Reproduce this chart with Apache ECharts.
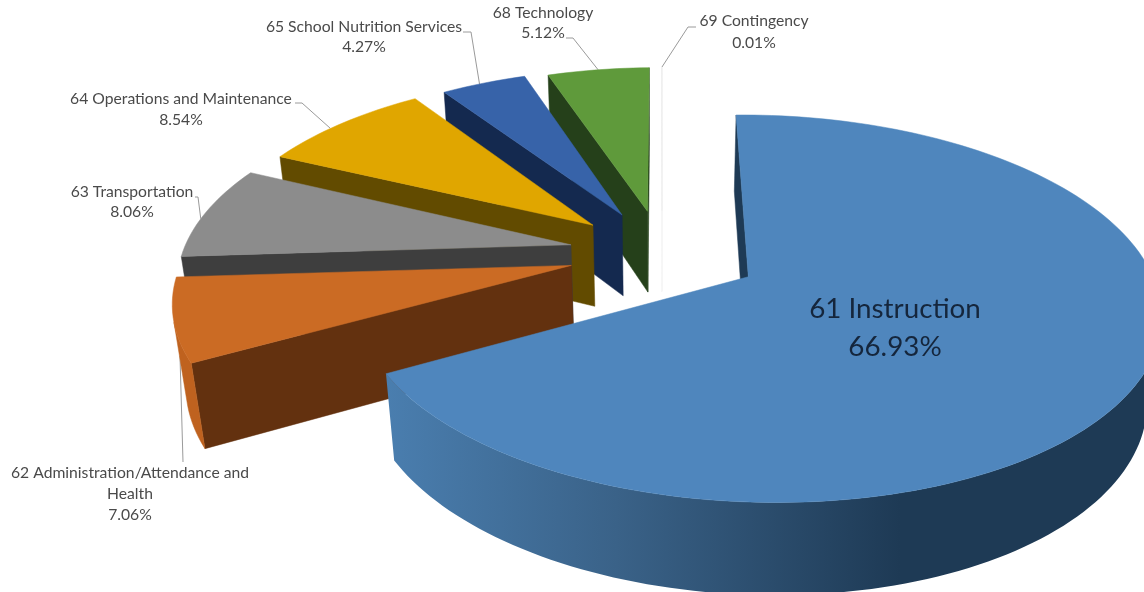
<!DOCTYPE html>
<html>
<head>
<meta charset="utf-8">
<title>General fund expenditures by function</title>
<style>
  html, body { margin: 0; padding: 0; background: #fff; }
  #chart { width: 1144px; height: 592px; }
</style>
<script src="https://cdn.jsdelivr.net/npm/echarts@6/dist/echarts.min.js"></script>
</head>
<body>
<div id="chart"></div>
<script>
// Budget share of each function, clockwise from twelve o'clock.
const functionNames = [
  '61 Instruction',
  '62 Administration/Attendance and\nHealth',
  '63 Transportation',
  '64 Operations and Maintenance',
  '65 School Nutrition Services',
  '68 Technology',
  '69 Contingency'
];
const shares = [66.93, 7.06, 8.06, 8.54, 4.27, 5.12, 0.01];

const topColors = ['#4F86BD', '#CB6B24', '#8C8C8C', '#E0A600', '#3763A9', '#5F9A3B', '#EDEDED'];
const faceColors = ['#1E3A55', '#63310F', '#3E3E3E', '#624B00', '#14294F', '#25401A', '#F2F2F2'];
const wallColors = ['#1E3A55', '#BF621F', '#5A5A5A', '#8A6A00', '#203E70', '#3A5F24', '#F2F2F2'];

// Explosion distance and radius of each slice, in pie radii.
const explodeBy = [0.255, 0.245, 0.245, 0.245, 0.245, 0.245, 0.245];
const sliceReach = [1.005, 1.04, 1.045, 1.03, 1.015, 1, 1];

// Label placement: text centre, line height, font size, then the leader line
// (anchor as arc fraction and depth, followed by its elbow points).
const labelLayout = [
  { x: 895, y: 328, lh: 38, fs: 27.8, color: '#15263C' },
  { x: 130, y: 494, lh: 21, fs: 15.7, color: '#4A4A4A', f: 0.62, z: -0.55, bends: [[183, 462]] },
  { x: 132, y: 202, lh: 20, fs: 15.7, color: '#4A4A4A', f: 0.42, z: 0, bends: [[198, 197], [195, 197]] },
  { x: 181, y: 109, lh: 21, fs: 15.7, color: '#4A4A4A', f: 0.42, z: 0, bends: [[302, 103], [295, 103]] },
  { x: 364, y: 37, lh: 20, fs: 15.7, color: '#4A4A4A', f: 0.45, z: 0, bends: [[471, 32], [463, 32]] },
  { x: 543, y: 23, lh: 20, fs: 15.7, color: '#4A4A4A', f: 0.5, z: 0, bends: [[573, 38], [566, 38]] },
  { x: 754, y: 32, lh: 22, fs: 15.7, color: '#4A4A4A', f: 0.5, z: 0, bends: [[688, 27], [696, 27]] }
];

// Perspective camera for the tilted, exploded pie (unit radius, unit height).
const camera = { cx: 662, cy: 253, sx: 383, sy: 179, sz: 85, kx: 0.02, ky: 0.16, kz: 0.028 };

function project(X, Y, Z) {
  const w = 1 + camera.ky * Y - camera.kx * X - camera.kz * Z;
  return [camera.cx + camera.sx * X / w, camera.cy - (camera.sy * Y + camera.sz * Z) / w];
}

function shoelace(pts) {
  let s = 0;
  for (let i = 0; i < pts.length; i++) {
    const a = pts[i], b = pts[(i + 1) % pts.length];
    s += a[0] * b[1] - b[0] * a[1];
  }
  return s;
}

const total = shares.reduce((a, b) => a + b, 0);
const spans = [];
shares.reduce((acc, v) => {
  spans.push([acc / total * 360, (acc + v) / total * 360]);
  return acc + v;
}, 0);

const rad = d => d * Math.PI / 180;

function sliceGeometry(i) {
  const [a0, a1] = spans[i];
  const mid = rad((a0 + a1) / 2);
  const ox = explodeBy[i] * Math.sin(mid), oy = explodeBy[i] * Math.cos(mid);
  const at = (r, deg, z) => project(
    ox + r * sliceReach[i] * Math.sin(rad(deg)),
    oy + r * sliceReach[i] * Math.cos(rad(deg)),
    z
  );
  const n = Math.max(2, Math.ceil((a1 - a0) / 1.5) + 1);
  const angles = [];
  for (let k = 0; k < n; k++) angles.push(a0 + (a1 - a0) * k / (n - 1));
  return { a0, a1, at, angles };
}

function bigWallFill() {
  return {
    type: 'linear', global: true, x: 385, y: 0, x2: 900, y2: 0,
    colorStops: [
      { offset: 0, color: '#4A7EAF' },
      { offset: 0.45, color: '#3A6288' },
      { offset: 1, color: '#1E3A55' }
    ]
  };
}

function renderSlice(params, api) {
  const i = api.value(0);
  const g = sliceGeometry(i);
  const children = [];
  const poly = (points, fill) => children.push({
    type: 'polygon', shape: { points }, silent: true,
    style: { fill, stroke: typeof fill === 'string' ? fill : null, lineWidth: 0.5 }
  });

  // Leader line sits behind the slice body.
  const lay = labelLayout[i];
  if (lay.bends) {
    const anchor = g.at(1, g.a0 + (g.a1 - g.a0) * lay.f, lay.z);
    children.push({
      type: 'polyline', silent: true,
      shape: { points: [anchor].concat(lay.bends) },
      style: { stroke: '#9A9A9A', lineWidth: 1, fill: null }
    });
  }

  // Radial cut faces that turn towards the camera.
  const apexT = g.at(0, g.a0, 0), apexB = g.at(0, g.a0, -1);
  const startFace = [apexT, g.at(1, g.a0, 0), g.at(1, g.a0, -1), apexB];
  const endFace = [g.at(1, g.a1, 0), apexT, apexB, g.at(1, g.a1, -1)];
  if (shoelace(startFace) < 0) poly(startFace, faceColors[i]);
  if (shoelace(endFace) < 0) poly(endFace, faceColors[i]);

  // Outer wall: contiguous camera-facing runs of the rim.
  let run = null;
  const flush = () => {
    if (run && run.length > 1) {
      const pts = run.map(d => g.at(1, d, 0)).concat(run.slice().reverse().map(d => g.at(1, d, -1)));
      poly(pts, i === 0 ? bigWallFill() : wallColors[i]);
    }
    run = null;
  };
  for (let k = 0; k + 1 < g.angles.length; k++) {
    const d0 = g.angles[k], d1 = g.angles[k + 1];
    const q = [g.at(1, d0, 0), g.at(1, d1, 0), g.at(1, d1, -1), g.at(1, d0, -1)];
    if (shoelace(q) < 0) {
      if (!run) run = [d0];
      run.push(d1);
    } else {
      flush();
    }
  }
  flush();

  // Top surface.
  poly([apexT].concat(g.angles.map(d => g.at(1, d, 0))), topColors[i]);

  // Category name with its share.
  children.push({
    type: 'text', silent: true, z2: 10,
    style: {
      text: functionNames[i] + '\n' + shares[i].toFixed(2) + '%',
      x: lay.x, y: lay.y, align: 'center', verticalAlign: 'middle',
      lineHeight: lay.lh, fontSize: lay.fs, fontFamily: 'Lato', fill: lay.color
    }
  });
  return { type: 'group', children };
}

// Far slices paint first so nearer ones overlap them.
const paintOrder = [6, 5, 4, 3, 2, 1, 0];

const chart = echarts.init(document.getElementById('chart'), null, { renderer: 'canvas' });
chart.setOption({
  animation: false,
  backgroundColor: '#ffffff',
  series: [{
    type: 'custom',
    coordinateSystem: 'none',
    renderItem: renderSlice,
    data: paintOrder.map(i => [i, shares[i]])
  }]
});
</script>
</body>
</html>
